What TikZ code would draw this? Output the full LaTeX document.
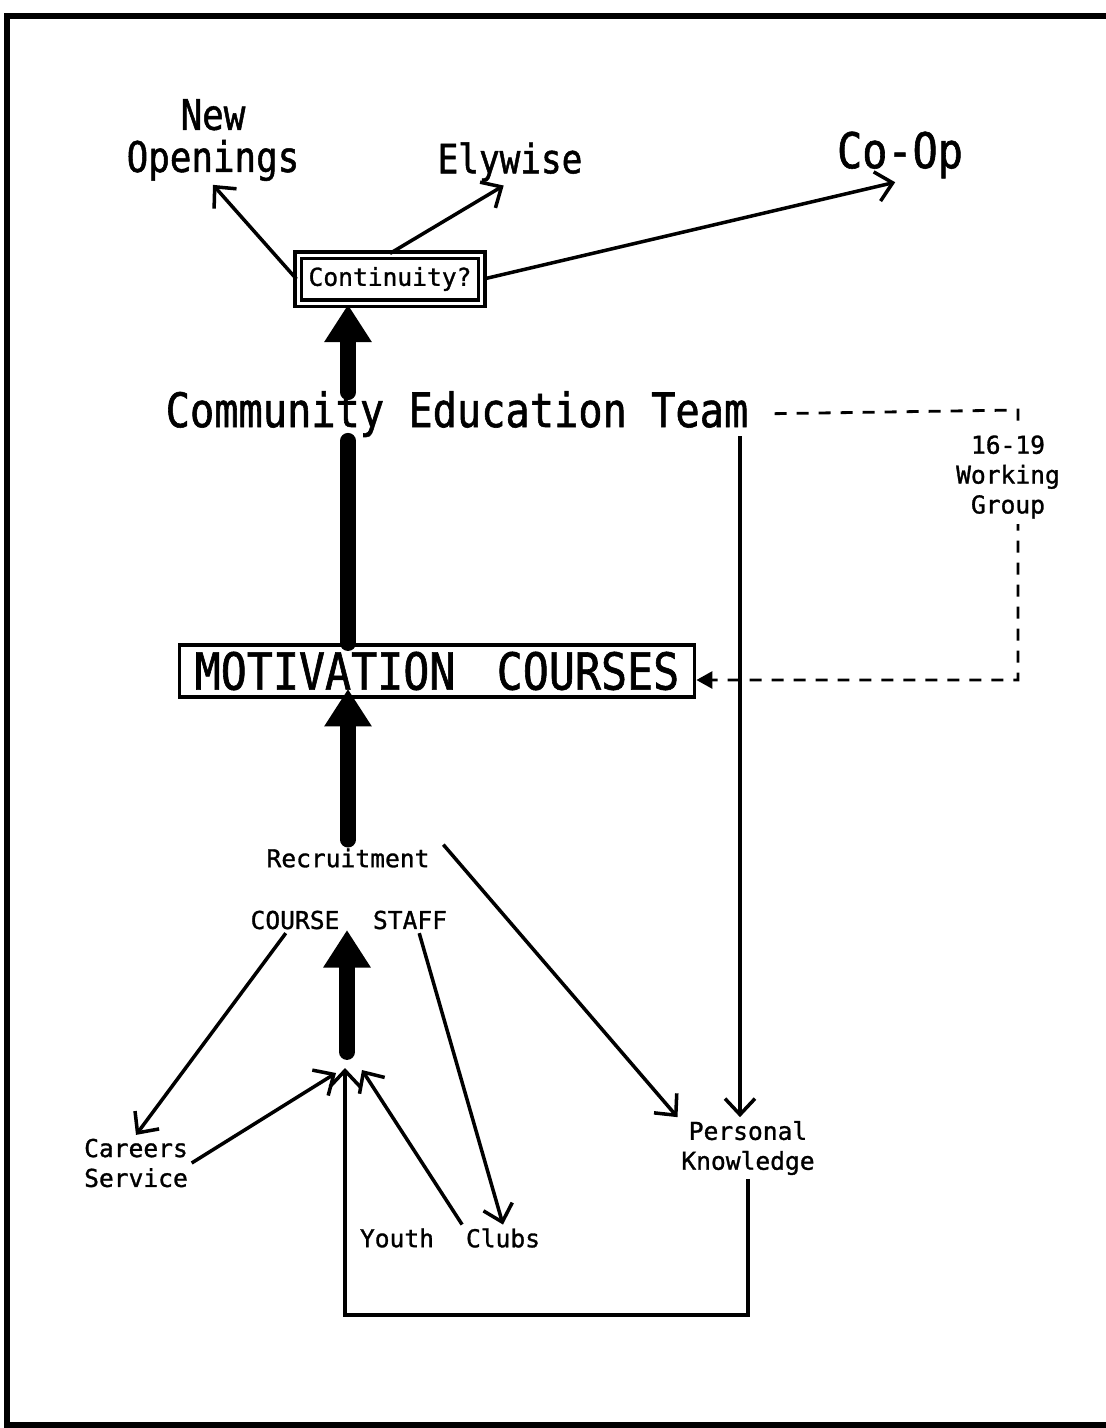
\documentclass[tikz,border=0pt]{standalone}
\usepackage{fontspec}
\newfontfamily\plotfont[FakeBold=1.2]{DejaVu Sans Mono}
\newfontfamily\bigplot[FakeStretch=0.85,FakeBold=1.2]{DejaVu Sans Mono}
\usetikzlibrary{arrows.meta}

\begin{document}
\begin{tikzpicture}[x=0.02cm,y=-0.02cm,
  thin arrow/.style={line width=2pt,-{Straight Barb[length=0.32cm,width=0.6cm]}},
  fat arrow/.style={line width=9pt,line cap=round,-{Triangle[length=0.75cm,width=0.9cm]}},
  fat line/.style={line width=9pt,line cap=round},
  dash line/.style={line width=1.6pt,dash pattern=on 0.24cm off 0.2cm,-{Triangle[length=0.32cm,width=0.34cm]}},
  small label/.style={font=\plotfont\fontsize{14}{17}\selectfont,align=center,inner sep=2pt},
  big label/.style={font=\bigplot\fontsize{27}{30}\selectfont,align=center,inner sep=2pt}]

  \useasboundingbox (0,0) rectangle (1106,1428);
  \draw[line width=3pt] (1106,16) -- (7,16) -- (7,1425) -- (1106,1425);

  % top row
  \node[big label,font=\bigplot\fontsize{24}{24}\selectfont] (newop) at (213,140) {New\\Openings};
  \node[big label,font=\bigplot\fontsize{23}{25}\selectfont] (ely) at (510,162) {Elywise};
  \node[big label,font=\bigplot\fontsize{28}{30}\selectfont] (coop) at (900,155) {Co-Op};
  \node[small label,draw,double,line width=1.8pt,double distance=0.06cm,
        minimum width=3.68cm,minimum height=0.96cm] (cont) at (390,279) {Continuity?};

  % middle
  \node[big label] (cet) at (457,414) {Community Education Team};
  \node[big label,font=\bigplot\fontsize{29}{32}\selectfont,draw,line width=2.2pt,
        minimum width=10.3cm,minimum height=1.04cm] (mot) at (437,671) {MOTIVATION\hspace{0.3em} COURSES};
  \node[small label] (rec) at (348,858) {Recruitment};
  \node[small label] (course) at (295,920) {COURSE};
  \node[small label] (staff) at (410,920) {STAFF};

  % bottom
  \node[small label] (careers) at (136,1163) {Careers\\Service};
  \node[small label] (pk) at (748,1148) {Personal\\Knowledge};
  \node[small label] (youth) at (397,1238) {Youth};
  \node[small label] (clubs) at (503,1238) {Clubs};

  \coordinate (merge) at (347,1052);
  \coordinate (stafftip) at (347,930);
  \coordinate (inL) at (336,1073);
  \coordinate (inM) at (345,1068);
  \coordinate (inR) at (362,1070);
  \coordinate (loop) at (345,1315);
  \coordinate (drop) at (740,436);
  \coordinate (dashTR) at (1018,410);
  \coordinate (dashBR) at (1018,680);

  % spine
  \draw[fat line] (mot.north -| rec) -- (cet.south -| rec);
  \draw[fat arrow] ([yshift=-0.1cm]cet.north -| rec) -- (cont.south -| rec);
  \draw[fat arrow] ([yshift=0.1cm]rec.north) -- ([yshift=0.2cm]mot.south -| rec);
  \draw[fat arrow] (merge) -- (stafftip);

  % continuity
  \draw[thin arrow] (cont.west) -- (newop.south);
  \draw[thin arrow] (cont.north) -- (ely.-105);
  \draw[thin arrow] (cont.east) -- (coop.-100);

  % 16-19 group
  \draw[dash line,shorten <=0.45cm] (cet.east) -- (dashTR) -- (dashBR) -- (mot.east |- dashBR);
  \node[small label,fill=white,inner sep=3pt] (wg) at (1008,477) {16-19\\Working\\Group};

  % recruitment links
  \draw[thin arrow] (drop) -- (drop |- pk.north);
  \draw[thin arrow] ([xshift=0.2cm]rec.north east) -- (pk.north west);
  \draw[thin arrow] (course.235) -- (careers.north);
  \draw[thin arrow] (staff.-55) -- (clubs.north);
  \draw[thin arrow] (careers.east) -- (inL);
  \draw[thin arrow] (clubs.north west) -- (inR);
  \draw[thin arrow] (pk.south) |- (loop) -- (inM);
\end{tikzpicture}
\end{document}
